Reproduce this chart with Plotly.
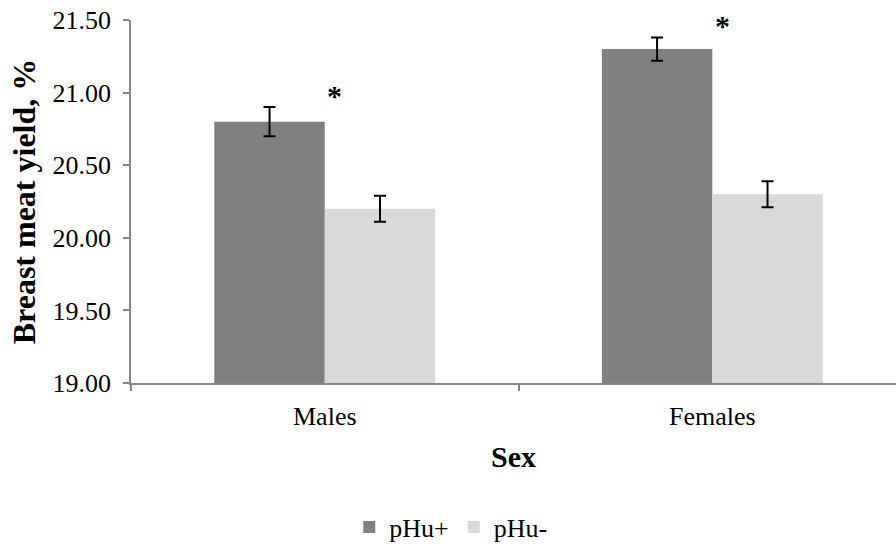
import plotly.graph_objects as go

# Breast meat yield by sex and ultimate pH group
sexes = ["Males", "Females"]
phu_plus = [20.80, 21.30]
phu_plus_err = [0.10, 0.08]
phu_minus = [20.20, 20.30]
phu_minus_err = [0.09, 0.09]
significant = [True, True]

font_family = "Liberation Serif"
axis_color = "#868686"

fig = go.Figure()
fig.add_trace(go.Bar(
    name="pHu+", x=sexes, y=phu_plus,
    marker=dict(color="#808080", line=dict(width=0)),
    error_y=dict(type="data", array=phu_plus_err, color="black", thickness=2, width=6),
))
fig.add_trace(go.Bar(
    name="pHu-", x=sexes, y=phu_minus,
    marker=dict(color="#d9d9d9", line=dict(width=0)),
    error_y=dict(type="data", array=phu_minus_err, color="black", thickness=2, width=6),
))

# asterisks marking significant differences, placed just above the taller whisker
for i, sex in enumerate(sexes):
    if significant[i]:
        top = max(phu_plus[i] + phu_plus_err[i], phu_minus[i] + phu_minus_err[i])
        fig.add_annotation(
            x=sex, y=top + 0.08, text="<b>*</b>", showarrow=False, xshift=10,
            font=dict(family=font_family, size=30, color="black"),
            yanchor="middle",
        )

fig.update_layout(
    width=896, height=549,
    margin=dict(l=131, r=0, t=20, b=166, autoexpand=False),
    paper_bgcolor="white", plot_bgcolor="white",
    font=dict(family=font_family, size=26, color="black"),
    barmode="group", bargap=0.43, bargroupgap=0,
    showlegend=True,
    legend=dict(orientation="h", x=0.418, xanchor="center", y=-0.397, yanchor="middle",
                font=dict(family=font_family, size=26), itemwidth=30, tracegroupgap=0),
)
fig.update_xaxes(
    range=[-0.5, 1.474], automargin=False,
    showline=True, linecolor=axis_color, linewidth=1.5,
    ticks="outside", tickson="boundaries", ticklen=6, tickcolor=axis_color, tickwidth=1.5,
    ticklabelstandoff=9, tickfont=dict(family=font_family, size=26),
    title=dict(text="<b>Sex</b>", font=dict(family=font_family, size=30), standoff=16),
    showgrid=False, zeroline=False,
)
fig.update_yaxes(
    range=[19, 21.5], dtick=0.5, tickformat=".2f", automargin=False,
    showline=True, linecolor=axis_color, linewidth=1.5,
    ticks="outside", ticklen=6, tickcolor=axis_color, tickwidth=1.5,
    ticklabelstandoff=7, tickfont=dict(family=font_family, size=26),
    title=dict(text="<b>Breast meat yield, %</b>", font=dict(family=font_family, size=32), standoff=7),
    showgrid=False, zeroline=False,
)

fig.write_html("out.html")
